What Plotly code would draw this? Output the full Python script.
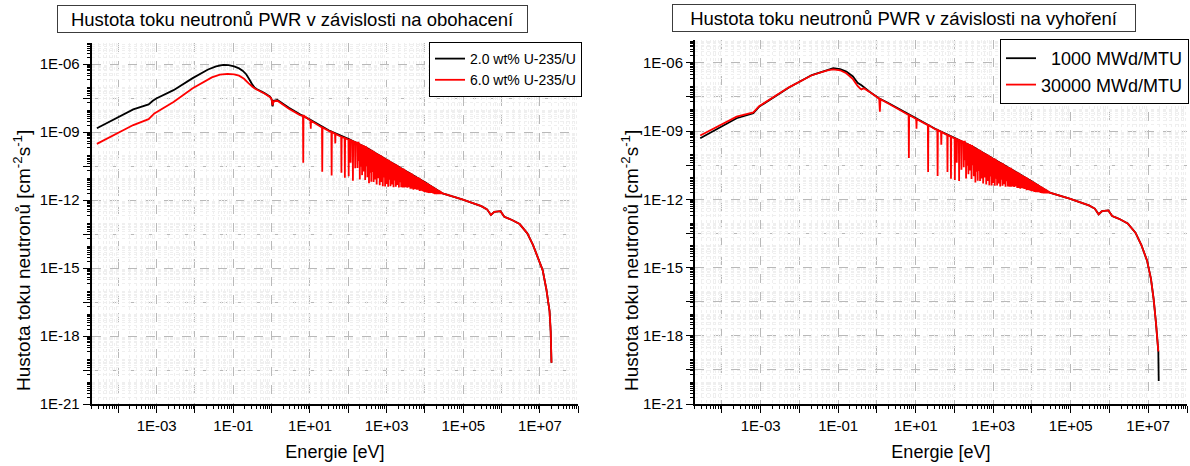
import numpy as np
import plotly.graph_objects as go

# ---------------------------------------------------------------
# Neutron flux density spectra of a PWR (values as log10 of E [eV]
# and log10 of flux density [cm^-2 s^-1])
# ---------------------------------------------------------------

# Left panel - enrichment, thermal + epithermal part
enr2_logE = [-4.56, -3.61, -3.21, -3.10, -3.01, -2.56, -2.06, -1.66, -1.45, -1.26, -1.12,
             -0.98, -0.85, -0.75, -0.66, -0.58, -0.50, -0.44, -0.38, -0.20, -0.04, 0.00,
             0.025, 0.05, 0.15, 0.45, 0.75, 1.00, 1.50, 2.00, 2.50, 3.00, 3.50, 4.00]
enr2_logF = [-8.83, -8.00, -7.78, -7.62, -7.52, -7.15, -6.62, -6.24, -6.10, -6.04, -6.05,
             -6.10, -6.19, -6.30, -6.46, -6.68, -6.92, -7.05, -7.11, -7.27, -7.44, -7.56,
             -7.87, -7.62, -7.58, -7.93, -8.23, -8.45, -8.93, -9.30, -9.72, -10.22, -10.72, -11.22]

enr6_logE = [-4.56, -3.61, -3.21, -3.06, -2.56, -2.06, -1.56, -1.35, -1.15, -0.98, -0.85,
             -0.72, -0.60, -0.50, -0.44, -0.38, -0.20, -0.04, 0.00, 0.025, 0.05, 0.15,
             0.45, 0.75, 1.00, 1.50, 2.00]
enr6_logF = [-9.52, -8.69, -8.43, -8.18, -7.67, -7.07, -6.59, -6.47, -6.43, -6.45, -6.51,
             -6.65, -6.85, -7.00, -7.08, -7.13, -7.29, -7.46, -7.56, -7.82, -7.64, -7.62,
             -7.97, -8.26, -8.48, -8.96, -9.33]

# Left panel - isolated U-238 resonances (energy, line level, dip bottom)
enr_res_logE = [0.824, 1.02, 1.32, 1.565, 1.66, 1.82, 1.91, 2.01, 2.06, 2.12, 2.18]
enr_res_top = [-8.27, -8.50, -8.80, -9.00, -9.08, -9.21, -9.27, -9.32, -9.36, -9.41, -9.45]
enr_res_bot = [-10.35, -8.85, -10.75, -10.92, -9.50, -10.80, -11.02, -10.95, -10.35, -11.15, -10.60]

# Left panel - fast part
enr_tail_logE = [4.46, 4.97, 5.47, 5.62, 5.72, 5.81, 5.97, 6.07, 6.17, 6.27, 6.47, 6.67,
                 6.82, 6.97, 7.07, 7.17, 7.22, 7.25, 7.28, 7.30]
enr_tail_logF = [-11.71, -11.97, -12.27, -12.41, -12.66, -12.52, -12.49, -12.74, -12.81, -12.88,
                 -13.06, -13.47, -13.99, -14.65, -15.09, -15.97, -16.56, -16.90, -17.80, -19.18]

# Right panel - burnup, thermal + epithermal part
bu1k_logE = [-4.56, -3.62, -3.19, -3.04, -2.26, -1.68, -1.28, -1.13, -0.95, -0.79, -0.62,
             -0.50, -0.40, -0.20, 0.04, 0.28, 0.67, 1.00, 1.50, 2.00, 2.50, 3.00, 3.50, 4.00]
bu1k_logF = [-9.32, -8.44, -8.22, -7.93, -7.08, -6.54, -6.32, -6.24, -6.28, -6.39, -6.60,
             -6.88, -6.99, -7.26, -7.55, -7.76, -8.12, -8.43, -8.90, -9.30, -9.72, -10.22,
             -10.72, -11.22]

bu30k_logE = [-4.56, -3.62, -3.19, -3.04, -2.26, -1.68, -1.28, -1.13, -0.95, -0.79, -0.62,
              -0.50, -0.44, -0.40, -0.34, -0.20, 0.04, 0.06, 0.075, 0.09, 0.28, 0.67,
              1.00, 1.50, 2.00]
bu30k_logF = [-9.20, -8.37, -8.18, -7.91, -7.07, -6.55, -6.34, -6.29, -6.33, -6.46, -6.72,
              -7.02, -7.12, -7.17, -7.12, -7.27, -7.56, -7.62, -8.15, -7.60, -7.78, -8.15,
              -8.46, -8.92, -9.32]

# Right panel - isolated resonances
bu_res_logE = [0.824, 1.02, 1.32, 1.565, 1.66, 1.82, 1.91, 2.01, 2.06, 2.12, 2.18]
bu_res_top = [-8.30, -8.48, -8.74, -8.96, -9.04, -9.18, -9.25, -9.32, -9.36, -9.41, -9.45]
bu_res_bot = [-10.19, -8.90, -10.80, -10.98, -9.60, -10.80, -11.10, -11.15, -10.40, -11.20, -10.70]

# Right panel - fast part
bu_tail_logE = [4.46, 4.97, 5.47, 5.62, 5.72, 5.81, 5.97, 6.07, 6.17, 6.27, 6.47, 6.67,
                6.82, 6.97, 7.07, 7.14, 7.20, 7.26]
bu_tail_logF = [-11.71, -11.97, -12.27, -12.41, -12.66, -12.52, -12.49, -12.74, -12.81, -12.88,
                -13.06, -13.47, -14.00, -14.70, -15.50, -16.40, -17.45, -18.69]
bu1k_end_logE = [7.27]
bu1k_end_logF = [-19.99]

# Unresolved resonance band, 170 eV - 26 keV (energy, line level, dip bottom)
band_logE = [2.24, 2.26, 2.28, 2.30, 2.32, 2.34, 2.36, 2.38, 2.40, 2.42,
             2.44, 2.46, 2.48, 2.50, 2.52, 2.54, 2.56, 2.58, 2.60, 2.62,
             2.64, 2.66, 2.68, 2.70, 2.72, 2.74, 2.76, 2.78, 2.80, 2.82,
             2.84, 2.86, 2.88, 2.90, 2.92, 2.94, 2.96, 2.98, 3.00, 3.02,
             3.04, 3.06, 3.08, 3.10, 3.12, 3.14, 3.16, 3.18, 3.20, 3.22,
             3.24, 3.26, 3.28, 3.30, 3.32, 3.34, 3.36, 3.38, 3.40, 3.42,
             3.44, 3.46, 3.48, 3.50, 3.52, 3.54, 3.56, 3.58, 3.60, 3.62,
             3.64, 3.66, 3.68, 3.70, 3.72, 3.74, 3.76, 3.78, 3.80, 3.82,
             3.84, 3.86, 3.88, 3.90, 3.92, 3.94, 3.96, 3.98, 4.00, 4.02,
             4.04, 4.06, 4.08, 4.10, 4.12, 4.14, 4.16, 4.18, 4.20, 4.22,
             4.24, 4.26, 4.28, 4.30, 4.32, 4.34, 4.36, 4.38, 4.40, 4.42]
band_top = [-9.49, -9.43, -9.56, -9.52, -9.58, -9.55, -9.60, -9.61, -9.59, -9.69,
            -9.66, -9.66, -9.72, -9.72, -9.80, -9.73, -9.80, -9.81, -9.79, -9.89,
            -9.86, -9.86, -9.92, -9.92, -10.00, -9.93, -10.00, -10.01, -9.99, -10.09,
            -10.06, -10.06, -10.12, -10.12, -10.20, -10.13, -10.20, -10.21, -10.19, -10.29,
            -10.26, -10.26, -10.32, -10.32, -10.40, -10.33, -10.40, -10.41, -10.39, -10.49,
            -10.46, -10.46, -10.52, -10.52, -10.60, -10.53, -10.60, -10.61, -10.59, -10.69,
            -10.66, -10.66, -10.72, -10.72, -10.80, -10.73, -10.80, -10.81, -10.79, -10.89,
            -10.86, -10.86, -10.92, -10.92, -11.00, -10.93, -11.00, -11.01, -10.99, -11.09,
            -11.06, -11.06, -11.12, -11.12, -11.20, -11.13, -11.20, -11.21, -11.19, -11.29,
            -11.26, -11.27, -11.31, -11.32, -11.38, -11.34, -11.40, -11.41, -11.42, -11.47,
            -11.46, -11.48, -11.51, -11.53, -11.57, -11.55, -11.60, -11.61, -11.62, -11.66]
band_bot = [-10.59, -9.87, -10.28, -11.09, -10.03, -10.53, -10.90, -9.94, -10.74, -10.25,
            -11.11, -10.50, -10.14, -10.99, -10.45, -11.26, -10.35, -10.79, -11.19, -10.25,
            -10.76, -11.20, -10.49, -11.09, -10.40, -11.31, -10.80, -11.04, -10.54, -11.35,
            -10.81, -11.20, -10.64, -11.39, -11.00, -10.61, -11.40, -10.89, -11.29, -10.75,
            -11.41, -11.10, -10.69, -11.39, -11.00, -11.31, -10.90, -11.44, -11.14, -10.85,
            -11.41, -11.10, -11.34, -10.99, -11.45, -11.21, -10.95, -11.44, -11.19, -11.45,
            -11.06, -11.45, -11.24, -11.44, -11.10, -11.46, -11.30, -11.44, -11.14, -11.50,
            -11.31, -11.50, -11.19, -11.54, -11.35, -11.51, -11.30, -11.54, -11.44, -11.55,
            -11.31, -11.60, -11.44, -11.59, -11.40, -11.61, -11.55, -11.64, -11.44, -11.65,
            -11.56, -11.68, -11.49, -11.69, -11.60, -11.69, -11.58, -11.69, -11.66, -11.72,
            -11.61, -11.74, -11.67, -11.74, -11.67, -11.74, -11.70, -11.74, -11.71, -11.74]

# Axis labels (labelled decades) and unlabelled grid decades
x_label_exp = [-3, -1, 1, 3, 5, 7]
x_label_text = ["1E-03", "1E-01", "1E+01", "1E+03", "1E+05", "1E+07"]
x_grid_exp = [-4, -2, 0, 2, 4, 6, 8]
y_label_exp = [-6, -9, -12, -15, -18, -21]
y_label_text = ["1E-06", "1E-09", "1E-12", "1E-15", "1E-18", "1E-21"]
y_grid_exp = [-7.5, -10.5, -13.5, -16.5, -19.5]

SPIKE_HALF = 0.007  # half width of a resonance dip in decades


def spikes(logE, top, bot):
    xs, ys = [], []
    for e, t, b in zip(logE, top, bot):
        xs += [e - SPIKE_HALF, e, e + SPIKE_HALF]
        ys += [t, b, t]
    return xs, ys


def series(*parts):
    x = np.concatenate([np.asarray(p[0], float) for p in parts])
    y = np.concatenate([np.asarray(p[1], float) for p in parts])
    order = np.argsort(x, kind="stable")
    return np.power(10.0, x[order]), np.power(10.0, y[order])


band = spikes(band_logE, band_top, band_bot)

x_enr2, y_enr2 = series((enr2_logE, enr2_logF), (enr_tail_logE, enr_tail_logF))
x_enr6, y_enr6 = series((enr6_logE, enr6_logF),
                        spikes(enr_res_logE, enr_res_top, enr_res_bot), band,
                        (enr_tail_logE, enr_tail_logF))
x_bu1k, y_bu1k = series((bu1k_logE, bu1k_logF), (bu_tail_logE, bu_tail_logF),
                        (bu1k_end_logE, bu1k_end_logF))
x_bu30k, y_bu30k = series((bu30k_logE, bu30k_logF),
                          spikes(bu_res_logE, bu_res_top, bu_res_bot), band,
                          (bu_tail_logE, bu_tail_logF))

FONT = "Liberation Sans, Arial, sans-serif"
W, H = 1190, 466
X_RANGE = [-4.7, 8.0]
GRID = "#b9b9b9"
FINE_GRID = "#efefef"

fig = go.Figure()

# empty traces that bring the sub-decade grid overlays into existence
fig.add_trace(go.Scatter(x=[], y=[], xaxis="x3", yaxis="y3", showlegend=False,
                         hoverinfo="skip"))
fig.add_trace(go.Scatter(x=[], y=[], xaxis="x4", yaxis="y4", showlegend=False,
                         hoverinfo="skip"))

line_kw = dict(width=1.8, simplify=False)
fig.add_trace(go.Scatter(x=x_enr2, y=y_enr2, mode="lines", name="2.0 wt% U-235/U",
                         line=dict(color="#000000", **line_kw), xaxis="x", yaxis="y",
                         legend="legend"))
fig.add_trace(go.Scatter(x=x_enr6, y=y_enr6, mode="lines", name="6.0 wt% U-235/U",
                         line=dict(color="#ff0000", **line_kw), xaxis="x", yaxis="y",
                         legend="legend"))
fig.add_trace(go.Scatter(x=x_bu1k, y=y_bu1k, mode="lines", name="\u00a0\u00a01000 MWd/MTU",
                         line=dict(color="#000000", **line_kw), xaxis="x2", yaxis="y2",
                         legend="legend2"))
fig.add_trace(go.Scatter(x=x_bu30k, y=y_bu30k, mode="lines", name="30000 MWd/MTU",
                         line=dict(color="#ff0000", **line_kw), xaxis="x2", yaxis="y2",
                         legend="legend2"))

x_fine = [m * 10.0 ** d for d in range(-5, 8) for m in range(2, 10)]
y_fine = [m * 10.0 ** d for d in range(-21, -5) for m in range(2, 10)]


def main_axis(domain, anchor, rng, label_exp, label_text, grid_exp):
    return dict(
        type="log", range=rng, domain=domain, anchor=anchor,
        tickmode="array", tickvals=[10.0 ** e for e in label_exp], ticktext=label_text,
        ticks="outside", ticklen=7, tickwidth=1, tickcolor="black",
        showline=True, linecolor="black", linewidth=1.6,
        showgrid=True, gridcolor=GRID, gridwidth=1, griddash="dash",
        zeroline=False, automargin=False,
        tickfont=dict(family=FONT, size=15, color="black"),
        minor=dict(tickmode="array", tickvals=[10.0 ** e for e in grid_exp],
                   ticks="outside", ticklen=7, tickwidth=1, tickcolor="black",
                   showgrid=True, gridcolor=GRID, gridwidth=1, griddash="dash"),
    )


def fine_axis(over, anchor, rng, vals):
    # unlabelled overlay axis carrying the 2..9 sub-decade ticks and faint grid
    return dict(
        type="log", range=rng, overlaying=over, anchor=anchor,
        tickmode="array", tickvals=vals, showticklabels=False,
        ticks="outside", ticklen=4, tickwidth=1, tickcolor="black",
        showline=False, showgrid=True, gridcolor=FINE_GRID, gridwidth=1, griddash="dot",
        zeroline=False, automargin=False, fixedrange=True,
    )


x1 = main_axis([91.5 / W, 578.3 / W], "y", X_RANGE, x_label_exp, x_label_text, x_grid_exp)
x2 = main_axis([694.8 / W, 1187.0 / W], "y2", X_RANGE, x_label_exp, x_label_text, x_grid_exp)
for ax in (x1, x2):
    ax["title"] = dict(text="Energie [eV]", font=dict(family=FONT, size=18, color="black"),
                       standoff=13)
y1 = main_axis([62 / H, 423 / H], "x", [-21, -5.07], y_label_exp, y_label_text, y_grid_exp)
y2 = main_axis([62 / H, 426 / H], "x2", [-21, -5.0], y_label_exp, y_label_text, y_grid_exp)

Y_TITLE = "Hustota toku neutronů [cm<sup>-2</sup>s<sup>-1</sup>]"


def box_title(text, xc, yc, width):
    return dict(text=text, x=xc / W, y=1 - yc / H, xref="paper", yref="paper",
                xanchor="center", yanchor="middle", showarrow=False,
                font=dict(family=FONT, size=18.5, color="black"),
                bordercolor="#3c3c3c", borderwidth=1, borderpad=1, width=width, height=24,
                bgcolor="white")


def side_title(xc):
    return dict(text=Y_TITLE, x=xc / W, y=1 - 261 / H, xref="paper", yref="paper",
                xanchor="center", yanchor="middle", showarrow=False, textangle=-90,
                font=dict(family=FONT, size=19, color="black"))


fig.update_layout(
    width=W, height=H, margin=dict(l=0, r=0, t=0, b=0),
    paper_bgcolor="white", plot_bgcolor="white",
    font=dict(family=FONT, color="black"),
    xaxis=x1, yaxis=y1, xaxis2=x2, yaxis2=y2,
    xaxis3=fine_axis("x", "y3", X_RANGE, x_fine),
    yaxis3=fine_axis("y", "x3", [-21, -5.07], y_fine),
    xaxis4=fine_axis("x2", "y4", X_RANGE, x_fine),
    yaxis4=fine_axis("y2", "x4", [-21, -5.0], y_fine),
    legend=dict(x=582 / W, xanchor="right", y=1 - 42 / H, yanchor="top",
                bordercolor="black", borderwidth=1, bgcolor="white",
                font=dict(family=FONT, size=14, color="black"), tracegroupgap=0),
    legend2=dict(x=1189 / W, xanchor="right", y=1 - 39 / H, yanchor="top",
                 bordercolor="black", borderwidth=1, bgcolor="white",
                 font=dict(family=FONT, size=18, color="black"), tracegroupgap=0),
    showlegend=True,
    annotations=[
        box_title("Hustota toku neutronů PWR v závislosti na obohacení", 292.5, 19, 467),
        box_title("Hustota toku neutronů PWR v závislosti na vyhoření", 904, 18.5, 460),
        side_title(22),
        side_title(630),
    ],
)

fig.write_html("out.html")
